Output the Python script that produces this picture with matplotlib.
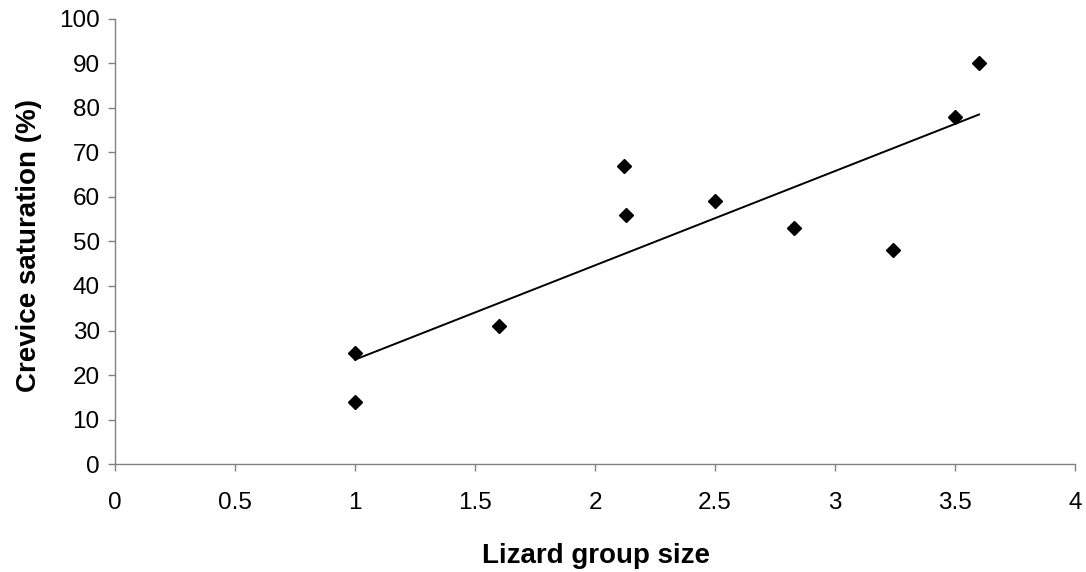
import numpy as np
import matplotlib.pyplot as plt

plt.rcParams['font.family'] = ['Liberation Sans', 'DejaVu Sans']

group_size = [1.0, 1.0, 1.6, 2.12, 2.13, 2.5, 2.83, 3.24, 3.5, 3.6]
saturation = [25, 14, 31, 67, 56, 59, 53, 48, 78, 90]

fig = plt.figure(figsize=(10.86, 5.72), dpi=100)
ax = fig.add_axes([0.1059, 0.1888, 0.884, 0.778])

ax.plot(group_size, saturation, linestyle='none', marker='D', color='black', markersize=7)

# linear trendline
slope, icpt = np.polyfit(group_size, saturation, 1)
xs = np.array([min(group_size), max(group_size)])
ax.plot(xs, slope * xs + icpt, color='black', linewidth=1.4)

ax.set_xlim(0, 4)
ax.set_ylim(0, 100)
ax.set_xticks(np.arange(0, 4.01, 0.5))
ax.set_xticklabels(['0', '0.5', '1', '1.5', '2', '2.5', '3', '3.5', '4'])
ax.set_yticks(range(0, 101, 10))

for s in ['top', 'right']:
    ax.spines[s].set_visible(False)
for s in ['left', 'bottom']:
    ax.spines[s].set_color('#808080')
    ax.spines[s].set_linewidth(1.0)

ax.tick_params(axis='both', direction='out', length=5, width=1, color='#808080', labelsize=17.5)
ax.tick_params(axis='x', pad=15)
ax.tick_params(axis='y', pad=6)

ax.set_xlabel('Lizard group size', fontsize=20, fontweight='bold')
ax.xaxis.set_label_coords(0.501, -0.178)
ax.set_ylabel('Crevice saturation (%)', fontsize=20, fontweight='bold')
ax.yaxis.set_label_coords(-0.09, 0.49)
ax.yaxis.label.set_va('center')

fig.savefig('out.png', dpi=100)
